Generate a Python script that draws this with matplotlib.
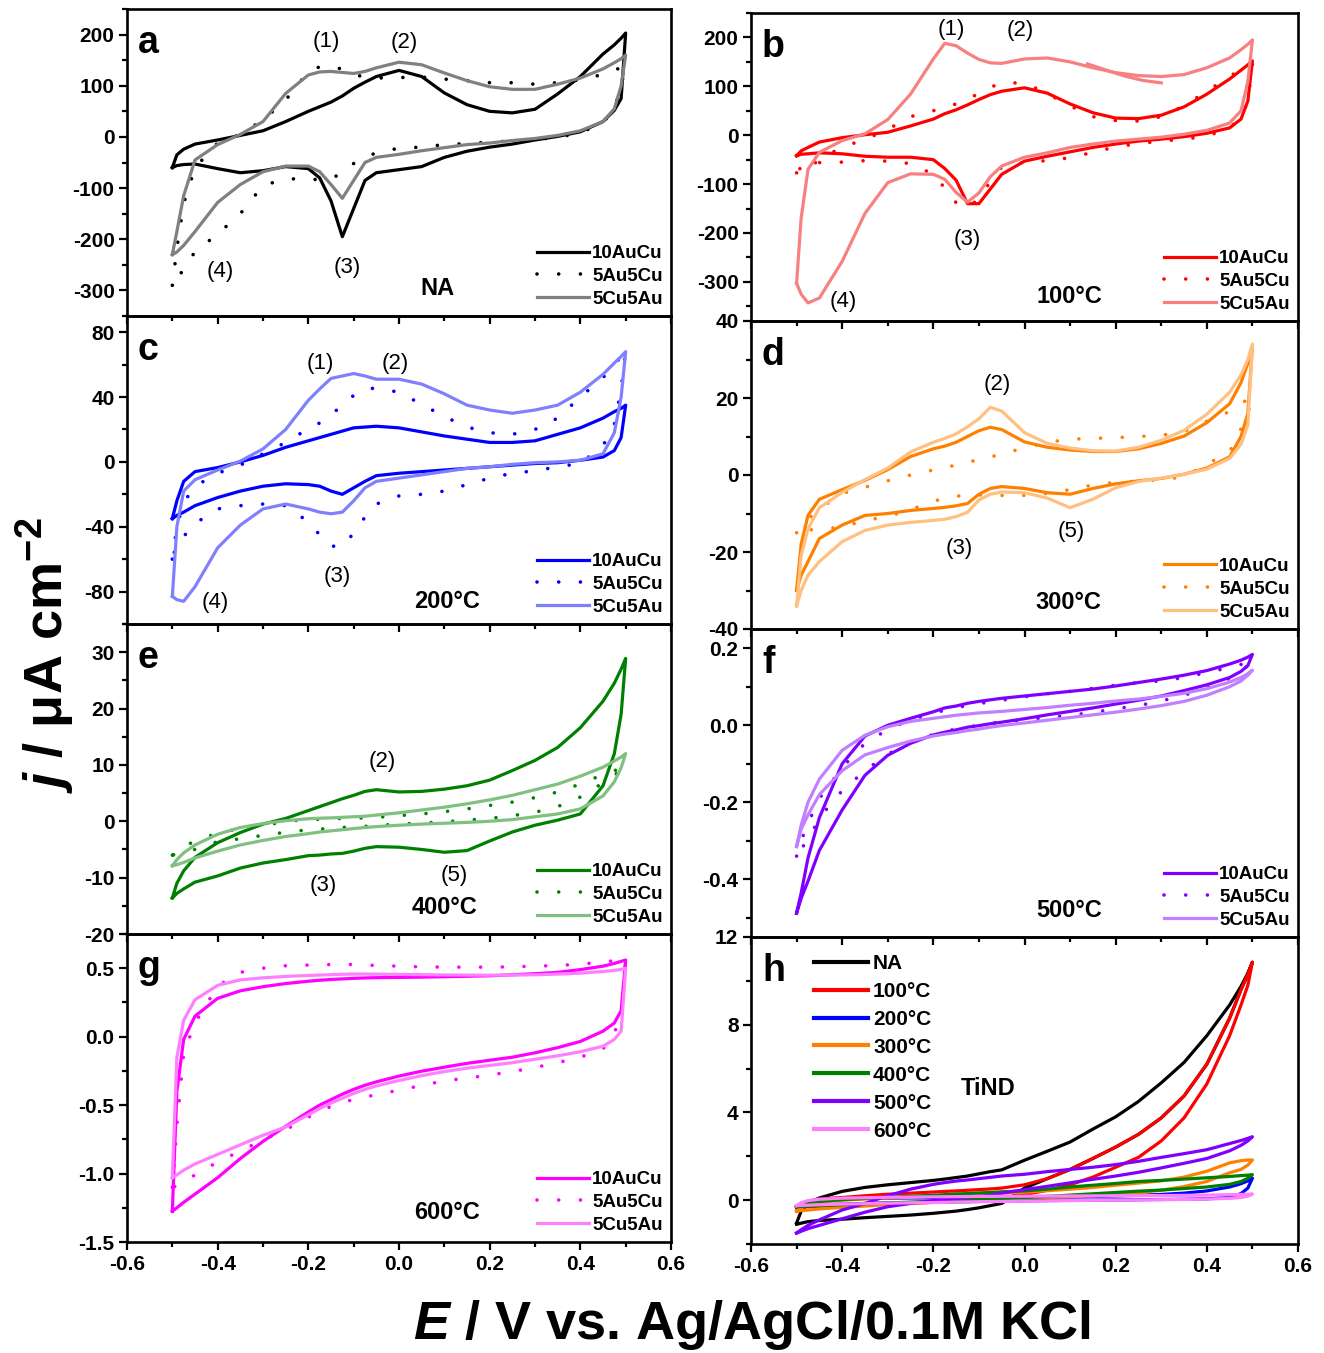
import matplotlib
matplotlib.use('Agg')
import matplotlib.pyplot as plt
from matplotlib.ticker import MultipleLocator

plt.rcParams['font.family'] = ['Liberation Sans', 'DejaVu Sans']
plt.rcParams['font.weight'] = 'bold'
plt.rcParams['axes.unicode_minus'] = False
plt.rcParams['mathtext.fontset'] = 'custom'
plt.rcParams['mathtext.rm'] = 'Liberation Sans:bold'
plt.rcParams['mathtext.it'] = 'Liberation Sans:bold:italic'
plt.rcParams['mathtext.bf'] = 'Liberation Sans:bold'

# potential grid (V), used for both the anodic (up) and cathodic (low) branch
E = [-0.5, -0.49, -0.475, -0.45, -0.4, -0.35, -0.3, -0.25, -0.2, -0.175, -0.15, -0.125, -0.1, -0.075,
     -0.05, 0.0, 0.05, 0.1, 0.15, 0.2, 0.25, 0.3, 0.35, 0.4, 0.45, 0.475, 0.49, 0.5]

samples = ['10AuCu', '5Au5Cu', '5Cu5Au']
temps = ['NA', '100\u00b0C', '200\u00b0C', '300\u00b0C', '400\u00b0C', '500\u00b0C', '600\u00b0C']

# panel a (NA)
a_10_up = [-60, -35, -24, -14, -6, 3, 12, 30, 50, 59, 68, 80, 95, 107, 118, 130, 118, 86, 63, 50, 47, 54, 84, 118, 162, 180, 193, 203]
a_10_low = [-60, -56, -54, -53, -62, -70, -66, -58, -62, -80, -125, -195, -140, -85, -70, -64, -58, -40, -28, -20, -14, -6, 1, 10, 30, 52, 75, 203]
a_55_up = [-290, -218, -130, -60, -12, 5, 33, 72, 128, 137, 139, 132, 122, 117, 115, 116, 117, 113, 110, 106, 106, 103, 106, 112, 122, 131, 135, 138]
a_55_low = [-290, -275, -260, -224, -190, -150, -95, -82, -82, -84, -82, -70, -52, -40, -31, -22, -20, -15, -13, -10, -8, -5, -1, 8, 28, 55, 101, 138]
a_cu_up = [-230, -185, -115, -45, -15, 5, 30, 85, 121, 127, 128, 126, 124, 128, 135, 146, 141, 125, 110, 98, 93, 93, 103, 115, 133, 145, 153, 160]
a_cu_low = [-230, -225, -212, -185, -128, -93, -68, -57, -57, -68, -93, -120, -85, -50, -40, -34, -27, -21, -15, -12, -7, -3, 3, 12, 30, 55, 100, 160]

# panel b (100 C)
b_10_up = [-42, -32, -25, -14, -5, 1, 6, 19, 33, 44, 52, 62, 73, 83, 90, 97, 86, 64, 46, 35, 34, 41, 58, 84, 115, 133, 144, 152]
b_10_low = [-42, -39, -38, -36, -38, -43, -45, -45, -50, -68, -92, -140, -140, -110, -80, -53, -43, -34, -25, -18, -12, -8, -3, 4, 15, 33, 70, 152]
b_55_up = [-77, -72, -68, -50, -24, -9, 12, 38, 50, 57, 64, 73, 86, 98, 107, 107, 85, 60, 38, 30, 29, 38, 60, 90, 120, 135, 140, 145]
b_55_low = [-77, -65, -57, -56, -55, -52, -53, -58, -80, -108, -138, -148, -130, -95, -65, -55, -52, -46, -35, -24, -17, -12, -8, -2, 15, 35, 70, 145]
b_cu_up = [-303, -170, -70, -35, -11, 3, 32, 84, 156, 188, 183, 168, 155, 148, 147, 156, 158, 150, 138, 128, 122, 120, 124, 138, 158, 175, 186, 195]
b_cu_low = [-303, -325, -343, -333, -258, -160, -97, -79, -80, -90, -117, -137, -118, -85, -63, -45, -36, -25, -18, -12, -8, -4, 2, 10, 25, 50, 110, 195]
b_cu_tail_E = [0.138, 0.18, 0.22, 0.26, 0.3]
b_cu_tail_j = [146, 133, 121, 112, 107]

# panel c (200 C)
c_10_up = [-35, -24, -12, -6, -3.5, 0, 4, 9, 13, 15, 17, 19, 21, 21.5, 22, 21, 18.5, 16, 14, 12, 12, 13, 17, 21, 27, 31, 33, 35]
c_10_low = [-35, -33, -31, -27, -22, -18, -15, -13.5, -14, -15, -18, -20, -16, -12, -8.5, -7, -6, -5, -4, -3, -2, -1, -0.5, 1, 3, 7, 15, 35]
c_55_up = [-60, -40, -25, -15, -7, -2, 5, 12, 20.5, 24, 29, 35, 41, 45, 45.5, 43, 35.5, 28, 21.5, 18, 17, 20, 27, 40, 52, 60, 65, 69]
c_55_low = [-60, -50, -46, -38, -29, -27, -26, -27, -37, -45, -52, -52, -44, -34, -26, -21, -20, -18, -14, -10, -7, -5.5, -3, -1, 10, 23, 45, 69]
c_cu_up = [-83, -40, -18, -11, -5, 0.5, 8, 20, 38, 45, 51.5, 53, 54.5, 53, 51, 51, 48, 42, 35, 32, 30, 32, 35, 43, 54, 61, 65, 68]
c_cu_low = [-83, -85, -86, -77, -53, -39, -29, -26, -29, -31, -32, -31, -24, -16, -12, -10, -8, -6, -4, -3, -1.5, -0.5, 0, 1, 5, 18, 40, 68]

# panel d (300 C)
d_10_up = [-30, -18, -10.5, -6.3, -3.8, -1.4, 1.4, 4.8, 6.8, 7.5, 8.5, 10, 11.5, 12.4, 11.8, 8.6, 7.2, 6.5, 6.1, 6.1, 6.8, 8.2, 10.1, 13.6, 18.5, 24, 29, 33.5]
d_10_low = [-30, -26, -22.5, -16.5, -13, -10.5, -10, -9.2, -8.7, -8.4, -8, -7.4, -5, -3.5, -3, -3.5, -4.6, -5, -3.5, -2.3, -1.5, -0.9, 0.2, 1.8, 4.7, 10, 16, 33.5]
d_55_up = [-15, -13.5, -11.5, -8.8, -4.8, -3.2, -1.5, 0, 1.3, 1.9, 2.6, 3.3, 4, 4.7, 5.4, 7.1, 8.5, 9.3, 9.5, 9.7, 10, 10.3, 11.3, 14, 16.5, 18.6, 19.6, 20.3]
d_55_low = [-15, -14.5, -14.3, -14.1, -13.5, -11.8, -10.8, -9, -6.8, -6.1, -5.5, -5.3, -5.2, -5.2, -5.3, -5.3, -4.8, -3.8, -2.6, -1.9, -1.6, -1.2, -0.5, 2.8, 6, 12, 16, 20.3]
d_cu_up = [-34, -21, -14, -8.5, -4.5, -1.2, 1.8, 6, 8.5, 9.5, 10.7, 12.5, 14.6, 17.6, 16.6, 11, 8.2, 7, 6.3, 6.2, 7.2, 9, 11.6, 15.8, 21.5, 26, 30, 34]
d_cu_low = [-34, -30, -26, -22.5, -17.3, -14.4, -13, -12.3, -11.8, -11.5, -10.8, -9.7, -6.5, -5, -4.4, -4.6, -6, -8.5, -6.3, -3.3, -1.7, -0.8, 0.2, 1.5, 4.3, 8, 13, 34]

# panel e (400 C)
e_10_up = [-13.6, -11, -8.8, -6.4, -3.8, -2, -0.5, 0.5, 1.9, 2.6, 3.3, 4, 4.6, 5.3, 5.6, 5.2, 5.3, 5.7, 6.3, 7.3, 9, 10.8, 13.1, 16.6, 21.3, 24.5, 27, 28.9]
e_10_low = [-13.6, -12.8, -12, -10.8, -9.7, -8.3, -7.4, -6.8, -6.1, -6, -5.8, -5.7, -5.3, -4.8, -4.5, -4.6, -5, -5.5, -5.2, -3.5, -1.9, -0.7, 0.2, 1.3, 6.3, 12, 19, 28.9]
e_55_up = [-6, -5.4, -4.5, -3.5, -2.1, -1.3, -0.8, 0, 0.3, 0.35, 0.45, 0.5, 0.55, 0.6, 0.7, 1, 1.3, 1.7, 2.2, 2.8, 3.4, 4.2, 5.2, 6.6, 8.3, 9, 9.3, 9.5]
e_55_low = [-6, -5.8, -5.4, -5, -3.6, -3.1, -2.5, -1.95, -1.5, -1.4, -1.25, -1.1, -1, -0.9, -0.75, -0.5, -0.3, -0.1, 0.2, 0.5, 1, 1.6, 2.6, 4.3, 6.8, 8.2, 9, 9.5]
e_cu_up = [-7.9, -6.8, -5.6, -4.2, -2.3, -1.1, -0.4, 0.1, 0.45, 0.55, 0.6, 0.7, 0.8, 0.9, 1.1, 1.5, 2, 2.5, 3.1, 3.8, 4.6, 5.6, 6.6, 8, 9.6, 10.7, 11.4, 12]
e_cu_low = [-7.9, -7.7, -7.3, -6.5, -5.3, -4.2, -3.4, -2.7, -2.2, -1.9, -1.7, -1.5, -1.3, -1.1, -0.95, -0.7, -0.5, -0.35, -0.2, 0, 0.3, 0.8, 1.3, 2.2, 4.5, 7, 9.5, 12]

# panel f (500 C)
f_10_up = [-0.488, -0.436, -0.345, -0.24, -0.1, -0.028, 0.0, 0.018, 0.035, 0.045, 0.05, 0.057, 0.062, 0.066, 0.07, 0.076, 0.082, 0.088, 0.094, 0.102, 0.111, 0.12, 0.13, 0.142, 0.159, 0.169, 0.177, 0.184]
f_10_low = [-0.488, -0.45, -0.405, -0.325, -0.22, -0.13, -0.078, -0.047, -0.025, -0.018, -0.012, -0.005, -0.001, 0.004, 0.008, 0.017, 0.027, 0.036, 0.045, 0.055, 0.065, 0.076, 0.09, 0.105, 0.124, 0.14, 0.155, 0.184]
f_55_up = [-0.34, -0.3, -0.255, -0.19, -0.11, -0.047, -0.011, 0.014, 0.031, 0.039, 0.046, 0.051, 0.056, 0.061, 0.065, 0.074, 0.082, 0.088, 0.096, 0.104, 0.111, 0.115, 0.124, 0.137, 0.15, 0.158, 0.164, 0.17]
f_55_low = [-0.34, -0.32, -0.3, -0.24, -0.17, -0.118, -0.075, -0.045, -0.024, -0.016, -0.01, -0.005, 0.0, 0.005, 0.008, 0.014, 0.02, 0.026, 0.033, 0.043, 0.051, 0.063, 0.078, 0.096, 0.122, 0.14, 0.155, 0.17]
f_cu_up = [-0.315, -0.26, -0.2, -0.14, -0.065, -0.026, -0.004, 0.01, 0.018, 0.022, 0.026, 0.029, 0.032, 0.034, 0.036, 0.041, 0.046, 0.052, 0.057, 0.063, 0.068, 0.075, 0.083, 0.095, 0.112, 0.124, 0.134, 0.143]
f_cu_low = [-0.315, -0.27, -0.233, -0.18, -0.118, -0.077, -0.058, -0.041, -0.028, -0.023, -0.019, -0.014, -0.01, -0.005, -0.001, 0.006, 0.013, 0.02, 0.027, 0.034, 0.042, 0.051, 0.062, 0.078, 0.1, 0.115, 0.13, 0.143]

# panel g (600 C)
g_10_up = [-1.275, -0.4, -0.02, 0.15, 0.28, 0.335, 0.365, 0.388, 0.405, 0.412, 0.418, 0.422, 0.426, 0.429, 0.431, 0.433, 0.435, 0.438, 0.441, 0.445, 0.452, 0.46, 0.47, 0.49, 0.515, 0.535, 0.55, 0.56]
g_10_low = [-1.275, -1.25, -1.21, -1.15, -1.03, -0.89, -0.765, -0.655, -0.55, -0.5, -0.46, -0.42, -0.385, -0.355, -0.33, -0.288, -0.252, -0.223, -0.195, -0.172, -0.15, -0.118, -0.08, -0.035, 0.04, 0.1, 0.19, 0.56]
g_55_up = [-1.1, -0.65, -0.12, 0.1, 0.37, 0.47, 0.5, 0.518, 0.523, 0.524, 0.527, 0.528, 0.527, 0.524, 0.52, 0.515, 0.51, 0.508, 0.508, 0.508, 0.51, 0.515, 0.52, 0.53, 0.545, 0.555, 0.56, 0.565]
g_55_low = [-1.1, -1.09, -1.06, -1.01, -0.915, -0.835, -0.755, -0.68, -0.588, -0.545, -0.51, -0.48, -0.46, -0.44, -0.425, -0.39, -0.357, -0.322, -0.303, -0.28, -0.255, -0.225, -0.19, -0.15, -0.09, 0.03, 0.15, 0.565]
g_cu_up = [-1.03, -0.15, 0.12, 0.27, 0.375, 0.415, 0.43, 0.44, 0.447, 0.45, 0.453, 0.456, 0.458, 0.458, 0.457, 0.455, 0.453, 0.451, 0.45, 0.449, 0.45, 0.452, 0.457, 0.464, 0.476, 0.484, 0.492, 0.5]
g_cu_low = [-1.03, -1.01, -0.975, -0.93, -0.86, -0.79, -0.72, -0.66, -0.57, -0.525, -0.485, -0.45, -0.415, -0.385, -0.36, -0.32, -0.285, -0.255, -0.23, -0.21, -0.19, -0.165, -0.14, -0.11, -0.07, -0.02, 0.04, 0.5]

# panel h (bare TiND)
h_na_up = [-1.05, -0.5, -0.15, 0.1, 0.4, 0.58, 0.7, 0.8, 0.9, 0.96, 1.03, 1.1, 1.2, 1.3, 1.38, 1.82, 2.23, 2.65, 3.24, 3.8, 4.5, 5.35, 6.28, 7.5, 8.9, 9.75, 10.35, 10.85]
h_na_low = [-1.1, -1.05, -0.98, -0.93, -0.87, -0.8, -0.74, -0.68, -0.6, -0.55, -0.5, -0.43, -0.35, -0.25, -0.15, 0.55, 0.98, 1.4, 1.9, 2.42, 3.0, 3.75, 4.75, 6.2, 8.3, 9.6, 10.3, 10.85]
h_100_up = [-0.35, -0.15, -0.05, 0.05, 0.12, 0.2, 0.27, 0.32, 0.37, 0.4, 0.42, 0.45, 0.48, 0.51, 0.55, 0.7, 0.98, 1.4, 1.9, 2.42, 3.0, 3.75, 4.75, 6.2, 8.3, 9.6, 10.3, 10.85]
h_100_low = [-0.35, -0.33, -0.3, -0.28, -0.25, -0.21, -0.18, -0.14, -0.1, -0.08, -0.06, -0.03, 0.0, 0.05, 0.1, 0.25, 0.45, 0.7, 1.05, 1.5, 1.95, 2.7, 3.75, 5.3, 7.5, 8.9, 9.8, 10.85]
h_200_up = [-0.3, -0.15, -0.05, 0.02, 0.06, 0.08, 0.09, 0.1, 0.1, 0.11, 0.11, 0.11, 0.12, 0.12, 0.12, 0.13, 0.14, 0.15, 0.17, 0.19, 0.22, 0.26, 0.32, 0.42, 0.6, 0.75, 0.88, 1.0]
h_200_low = [-0.3, -0.28, -0.25, -0.22, -0.18, -0.15, -0.13, -0.11, -0.1, -0.09, -0.08, -0.07, -0.06, -0.05, -0.04, -0.03, -0.02, -0.01, 0.0, 0.01, 0.02, 0.03, 0.04, 0.06, 0.12, 0.3, 0.55, 1.0]
h_300_up = [-0.5, -0.35, -0.2, -0.1, 0.0, 0.05, 0.1, 0.13, 0.17, 0.19, 0.21, 0.23, 0.26, 0.29, 0.32, 0.36, 0.43, 0.5, 0.58, 0.68, 0.78, 0.88, 1.05, 1.32, 1.7, 1.8, 1.83, 1.83]
h_300_low = [-0.5, -0.48, -0.45, -0.4, -0.33, -0.27, -0.2, -0.15, -0.1, -0.07, -0.04, -0.01, 0.02, 0.05, 0.08, 0.11, 0.13, 0.16, 0.2, 0.26, 0.34, 0.45, 0.62, 0.85, 1.25, 1.4, 1.6, 1.83]
h_400_up = [-0.3, -0.2, -0.12, -0.06, 0.02, 0.08, 0.13, 0.18, 0.22, 0.25, 0.28, 0.3, 0.33, 0.35, 0.38, 0.42, 0.5, 0.6, 0.68, 0.76, 0.85, 0.9, 0.96, 1.02, 1.08, 1.12, 1.14, 1.16]
h_400_low = [-0.3, -0.29, -0.27, -0.25, -0.21, -0.17, -0.13, -0.09, -0.05, -0.03, -0.01, 0.01, 0.03, 0.05, 0.07, 0.12, 0.17, 0.23, 0.29, 0.35, 0.41, 0.46, 0.53, 0.6, 0.72, 0.85, 1.0, 1.16]
h_500_up = [-1.5, -1.35, -1.15, -0.9, -0.45, -0.15, 0.2, 0.5, 0.72, 0.8, 0.87, 0.92, 0.98, 1.04, 1.1, 1.18, 1.3, 1.4, 1.5, 1.62, 1.77, 1.95, 2.12, 2.3, 2.58, 2.72, 2.82, 2.89]
h_500_low = [-1.5, -1.42, -1.3, -1.15, -0.85, -0.55, -0.3, -0.15, -0.02, 0.03, 0.08, 0.13, 0.17, 0.22, 0.32, 0.48, 0.63, 0.79, 0.95, 1.1, 1.27, 1.47, 1.68, 1.9, 2.25, 2.5, 2.7, 2.89]
h_600_up = [-0.25, -0.12, -0.02, 0.04, 0.09, 0.11, 0.13, 0.14, 0.15, 0.155, 0.16, 0.165, 0.17, 0.17, 0.175, 0.18, 0.185, 0.19, 0.195, 0.2, 0.205, 0.21, 0.22, 0.23, 0.25, 0.26, 0.27, 0.28]
h_600_low = [-0.25, -0.24, -0.23, -0.21, -0.18, -0.16, -0.14, -0.12, -0.11, -0.1, -0.09, -0.08, -0.07, -0.065, -0.06, -0.045, -0.03, -0.02, -0.01, 0.0, 0.01, 0.02, 0.03, 0.05, 0.08, 0.12, 0.18, 0.28]

W, H = 1324, 1353
fig = plt.figure(figsize=(W / 100, H / 100), dpi=100)


def add_axes(x0, y0, x1, y1):
    ax = fig.add_axes([x0 / W, 1 - y1 / H, (x1 - x0) / W, (y1 - y0) / H])
    ax.patch.set_alpha(0)
    return ax


def cv(ax, up, low, color, dotted=False, label=None):
    x = E + E[::-1]
    y = up + low[::-1]
    if dotted:
        ax.plot(x, y, color=color, lw=2.6, ls=(0, (0.01, 6)), dash_capstyle='round', label=label)
    else:
        ax.plot(x, y, color=color, lw=2.3, solid_joinstyle='round', label=label)


def style(ax, ylim, major, minor, xlabels):
    ax.set_xlim(-0.6, 0.6)
    ax.set_ylim(*ylim)
    ax.xaxis.set_major_locator(MultipleLocator(0.2))
    ax.xaxis.set_minor_locator(MultipleLocator(0.1))
    ax.yaxis.set_major_locator(MultipleLocator(major))
    ax.yaxis.set_minor_locator(MultipleLocator(minor))
    ax.tick_params(which='both', direction='out', width=1.6, labelsize=15, pad=3)
    ax.tick_params(which='major', length=6)
    ax.tick_params(which='minor', length=3.5)
    ax.tick_params(axis='x', labelbottom=xlabels)
    for s in ax.spines.values():
        s.set_linewidth(1.9)


panels = [
    dict(box=(127, 9, 671, 316), ylim=(-350, 250), major=100, minor=50, letter='a',
         colors=('black', 'black', '#808080'),
         curves=((a_10_up, a_10_low), (a_55_up, a_55_low), (a_cu_up, a_cu_low)),
         peaks=[('(1)', -0.161, 187), ('(2)', 0.011, 185), ('(3)', -0.115, -256), ('(4)', -0.395, -264)],
         tag=(temps[0], 0.084, -297)),
    dict(box=(751, 13, 1298, 321), ylim=(-380, 250), major=100, minor=50, letter='b',
         colors=('#ff0000', '#ff0000', '#f78080'),
         curves=((b_10_up, b_10_low), (b_55_up, b_55_low), (b_cu_up, b_cu_low)),
         peaks=[('(1)', -0.161, 217), ('(2)', -0.01, 215), ('(3)', -0.126, -214), ('(4)', -0.398, -341)],
         tag=(temps[1], 0.098, -329)),
    dict(box=(127, 316, 671, 624), ylim=(-100, 90), major=40, minor=20, letter='c',
         colors=('#0000ff', '#0000ff', '#8080ff'),
         curves=((c_10_up, c_10_low), (c_55_up, c_55_low), (c_cu_up, c_cu_low)),
         peaks=[('(1)', -0.174, 61), ('(2)', -0.009, 61), ('(3)', -0.137, -71), ('(4)', -0.406, -87)],
         tag=(temps[2], 0.106, -86)),
    dict(box=(751, 321, 1298, 629), ylim=(-40, 40), major=20, minor=10, letter='d',
         colors=('#ff8000', '#ff8000', '#ffc080'),
         curves=((d_10_up, d_10_low), (d_55_up, d_55_low), (d_cu_up, d_cu_low)),
         peaks=[('(2)', -0.06, 23.6), ('(3)', -0.144, -19.2), ('(5)', 0.102, -14.7)],
         tag=(temps[3], 0.096, -33)),
    dict(box=(127, 624, 671, 934), ylim=(-20, 35), major=10, minor=5, letter='e',
         colors=('#008000', '#008000', '#80c080'),
         curves=((e_10_up, e_10_low), (e_55_up, e_55_low), (e_cu_up, e_cu_low)),
         peaks=[('(2)', -0.038, 10.6), ('(3)', -0.168, -11.4), ('(5)', 0.121, -9.6)],
         tag=(temps[4], 0.101, -15.3)),
    dict(box=(751, 629, 1298, 937), ylim=(-0.55, 0.25), major=0.2, minor=0.1, letter='f',
         colors=('#8000ff', '#8000ff', '#c080ff'),
         curves=((f_10_up, f_10_low), (f_55_up, f_55_low), (f_cu_up, f_cu_low)),
         peaks=[], tag=(temps[5], 0.098, -0.48)),
    dict(box=(127, 934, 671, 1242), ylim=(-1.5, 0.75), major=0.5, minor=0.25, letter='g',
         colors=('#ff00ff', '#ff00ff', '#ff80ff'),
         curves=((g_10_up, g_10_low), (g_55_up, g_55_low), (g_cu_up, g_cu_low)),
         peaks=[], tag=(temps[6], 0.106, -1.287)),
]

for p in panels:
    ax = add_axes(*p['box'])
    style(ax, p['ylim'], p['major'], p['minor'], p['letter'] == 'g')
    for (up, low), col, name in zip(p['curves'], p['colors'], samples):
        cv(ax, up, low, col, dotted=(name == '5Au5Cu'), label=name)
    if p['letter'] == 'b':
        ax.plot(b_cu_tail_E, b_cu_tail_j, color='#f78080', lw=2.3)
    for txt, x, y in p['peaks']:
        ax.text(x, y, txt, fontsize=16, fontweight='normal', ha='center', va='center')
    t, x, y = p['tag']
    ax.text(x, y, t, fontsize=17, ha='center', va='center')
    ax.text(0.02, 0.89, p['letter'], transform=ax.transAxes, fontsize=27, ha='left', va='center')
    ax.legend(loc='lower right', frameon=False, fontsize=13.5, handlelength=2.8,
              handletextpad=0.15, labelspacing=0.3, borderaxespad=0.25, borderpad=0.2)

# panel h: bare TiND at all temperatures
ax = add_axes(751, 937, 1298, 1244)
style(ax, (-2, 12), 4, 2, True)
h_curves = [(h_na_up, h_na_low), (h_100_up, h_100_low), (h_200_up, h_200_low), (h_300_up, h_300_low),
            (h_400_up, h_400_low), (h_500_up, h_500_low), (h_600_up, h_600_low)]
h_colors = ['black', '#ff0000', '#0000ff', '#ff8000', '#008000', '#8000ff', '#ff80ff']
for (up, low), col, name in zip(h_curves, h_colors, temps):
    cv(ax, up, low, col, label=name)
ax.text(-0.08, 5.07, 'TiND', fontsize=17, ha='center', va='center')
ax.text(0.02, 0.89, 'h', transform=ax.transAxes, fontsize=27, ha='left', va='center')
leg = ax.legend(loc='upper left', bbox_to_anchor=(0.115, 0.945), frameon=False, fontsize=15,
                handlelength=2.6, handletextpad=0.24, labelspacing=0.43, borderaxespad=0, borderpad=0)
for line in leg.get_lines():
    line.set_linewidth(3)

fig.text(45 / W, 1 - 655 / H, r'$j$ / μA cm$^{-2}$', rotation=90, fontsize=39, ha='center', va='center')
fig.text(752 / W, 1 - 1325 / H, r'$E$ / V vs. Ag/AgCl/0.1M KCl', fontsize=39, ha='center', va='center')

fig.savefig('out.png', dpi=100)
